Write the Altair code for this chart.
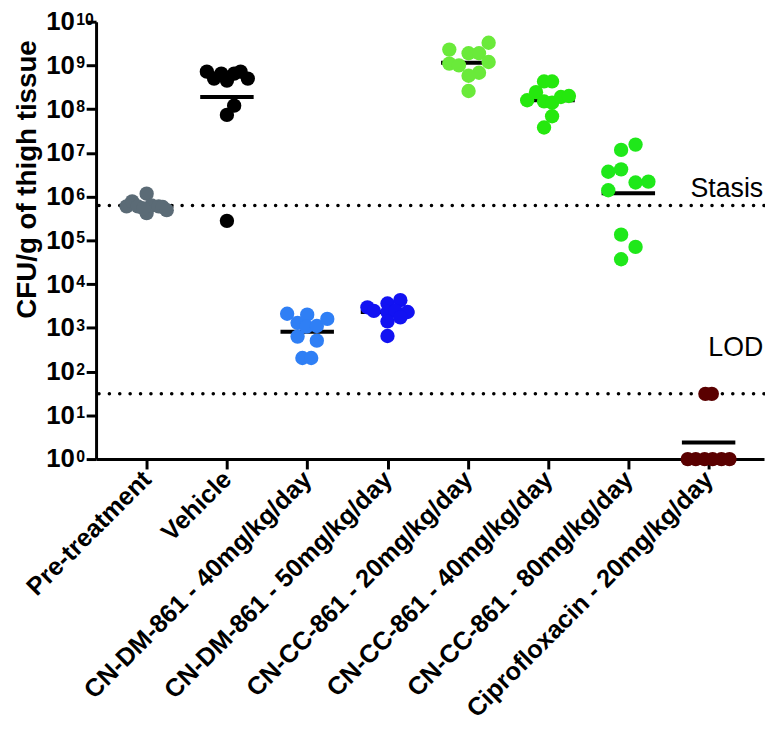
import json
import altair as alt
import pandas as pd

groups = ["Pre-treatment", "Vehicle", "CN-DM-861 - 40mg/kg/day", "CN-DM-861 - 50mg/kg/day",
          "CN-CC-861 - 20mg/kg/day", "CN-CC-861 - 40mg/kg/day", "CN-CC-861 - 80mg/kg/day",
          "Ciprofloxacin - 20mg/kg/day"]
colors = ["#5b6b76", "#000000", "#2f7ff5", "#1212f2", "#6aea3a", "#25e80e", "#1fe81a", "#5a0000"]

# CFU/g values per group and beeswarm offsets (fraction of category step)
pre_vals = [6.0e5, 7.8e5, 6.0e5, 1.17e6, 4.2e5, 6.3e5, 5.4e5, 6.0e5, 5.8e5, 4.9e5]
pre_dx = [-0.25, -0.18, -0.11, 0.0, 0.0, 0.06, -0.04, 0.15, 0.2, 0.25]
veh_vals = [7.2e8, 5.0e8, 6.5e8, 4.5e8, 6.5e8, 7.2e8, 5.0e8, 1.2e8, 7.4e7, 2.8e5]
veh_dx = [-0.25, -0.16, -0.07, 0.0, 0.09, 0.17, 0.26, 0.09, 0.0, 0.0]
dm40_vals = [2.1e3, 1.3e3, 2.0e3, 1.07e3, 1.1e3, 1.6e3, 630, 510, 204, 204]
dm40_dx = [-0.25, -0.12, 0.0, -0.01, 0.12, 0.25, -0.12, 0.12, -0.06, 0.05]
dm50_vals = [2.95e3, 2.45e3, 3.6e3, 4.3e3, 2.3e3, 2.45e3, 2.3e3, 1.4e3, 1.74e3, 650]
dm50_dx = [-0.25, -0.17, 0.0, 0.16, 0.0, 0.1, 0.25, 0.0, 0.16, 0.0]
cc20_vals = [2.3e9, 1.1e9, 1.0e9, 1.9e9, 1.9e9, 3.3e9, 1.2e9, 6.8e8, 5.8e8, 2.6e8]
cc20_dx = [-0.23, -0.23, -0.11, 0.01, 0.14, 0.26, 0.26, 0.14, 0.01, 0.01]
cc40_vals = [1.6e8, 2.45e8, 4.3e8, 4.3e8, 1.5e8, 1.4e8, 1.9e8, 2.0e8, 6.9e7, 3.8e7]
cc40_dx = [-0.26, -0.15, -0.05, 0.05, -0.05, 0.05, 0.16, 0.26, 0.05, -0.05]
cc80_vals = [1.17e7, 1.55e7, 3.7e6, 4.2e6, 2.1e6, 2.2e6, 1.4e6, 1.35e5, 7.1e4, 3.7e4]
cc80_dx = [-0.09, 0.09, -0.25, -0.09, 0.09, 0.25, -0.25, -0.09, 0.09, -0.09]
cip_vals = [31, 31, 1, 1, 1, 1, 1, 1]
cip_dx = [-0.04, 0.04, -0.26, -0.16, -0.05, 0.05, 0.16, 0.26]

group_vals = [pre_vals, veh_vals, dm40_vals, dm50_vals, cc20_vals, cc40_vals, cc80_vals, cip_vals]
group_dx = [pre_dx, veh_dx, dm40_dx, dm50_dx, cc20_dx, cc40_dx, cc80_dx, cip_dx]

# geometric means (horizontal bars)
means = [6.0e5, 1.9e8, 8.1e2, 2.3e3, 1.15e9, 1.6e8, 1.2e6, 2.4]

ref_names = ["Stasis", "LOD"]
ref_values = [6.3e5, 31]

exponents = list(range(0, 11))

FONT = "Liberation Sans"

rows = []
for i, (vals, dxs) in enumerate(zip(group_vals, group_dx)):
    for v, d in zip(vals, dxs):
        rows.append({"group": groups[i], "pos": i + d, "cfu": v})
pts = pd.DataFrame(rows)
mdf = pd.DataFrame({"group": groups, "pos": list(range(len(groups))), "cfu": means})
rdf = pd.DataFrame({"name": ref_names, "cfu": ref_values, "pos": [7.68, 7.68]})
edf = pd.DataFrame({"e": [str(e) for e in exponents], "cfu": [10.0 ** e for e in exponents]})

xscale = alt.Scale(domain=[-0.63, 7.69], nice=False, zero=False)
yscale = alt.Scale(type="log", domain=[1, 1e10], nice=False)

label_expr = "%s[datum.value]" % json.dumps(groups).replace('"', "'")

xaxis = alt.Axis(values=list(range(len(groups))), labelExpr=label_expr, title=None,
                 labelAngle=-45, labelAlign="right", labelBaseline="middle",
                 labelFont=FONT, labelFontSize=25.5, labelFontWeight="bold", labelColor="black",
                 labelPadding=6, labelLimit=0, tickSize=10, tickWidth=3, domainWidth=3,
                 domainColor="black", tickColor="black", grid=False, labelOverlap=False)
yaxis = alt.Axis(values=[10.0 ** e for e in exponents], labelExpr="'10'",
                 title="CFU/g of thigh tissue", titleFont=FONT, titleFontSize=28,
                 titleFontWeight="bold", titleColor="black", titleAngle=-90,
                 titleX=-69, titleY=159, titleAlign="center", titleBaseline="middle",
                 labelFont=FONT, labelFontSize=26, labelFontWeight="bold", labelColor="black",
                 labelPadding=12, tickSize=10, tickWidth=3, domainWidth=3,
                 domainColor="black", tickColor="black", grid=False)

base_x = alt.X("pos:Q", scale=xscale, axis=xaxis)
base_y = alt.Y("cfu:Q", scale=yscale, axis=yaxis)

refs = alt.Chart(rdf).mark_rule(strokeDash=[0.1, 10.4], strokeCap="round", strokeWidth=3.5,
                                color="black").encode(y=alt.Y("cfu:Q", scale=yscale, axis=yaxis))

stasis_text = alt.Chart(rdf).transform_filter("datum.name == 'Stasis'").mark_text(
    font=FONT, fontSize=27, align="right", baseline="alphabetic", dy=-8, color="black").encode(
    x=alt.X("pos:Q", scale=xscale), y=alt.Y("cfu:Q", scale=yscale), text="name:N")
lod_text = alt.Chart(rdf).transform_filter("datum.name == 'LOD'").mark_text(
    font=FONT, fontSize=27, align="right", baseline="alphabetic", dy=-38, color="black").encode(
    x=alt.X("pos:Q", scale=xscale), y=alt.Y("cfu:Q", scale=yscale), text="name:N")

points = alt.Chart(pts).mark_circle(size=210, opacity=1).encode(
    x=base_x, y=base_y,
    color=alt.Color("group:N", scale=alt.Scale(domain=groups, range=colors), legend=None))

mean_bars = alt.Chart(mdf).mark_tick(orient="horizontal", size=54, thickness=4, color="black",
                                     opacity=1).encode(
    x=alt.X("pos:Q", scale=xscale), y=alt.Y("cfu:Q", scale=yscale))

exp_text = alt.Chart(edf).mark_text(font=FONT, fontSize=16, fontWeight="bold", align="left",
                                    baseline="top", dy=-10, color="black").encode(
    x=alt.value(-20), y=alt.Y("cfu:Q", scale=yscale), text="e:N")

chart = alt.layer(refs, mean_bars, points, stasis_text, lod_text, exp_text).properties(
    width=675, height=442, autosize="none",
    padding={"left": 89, "top": 10, "right": 1, "bottom": 272}
).configure_view(strokeWidth=0)

chart.save("out.html", embed_options={"renderer": "svg", "actions": False})
